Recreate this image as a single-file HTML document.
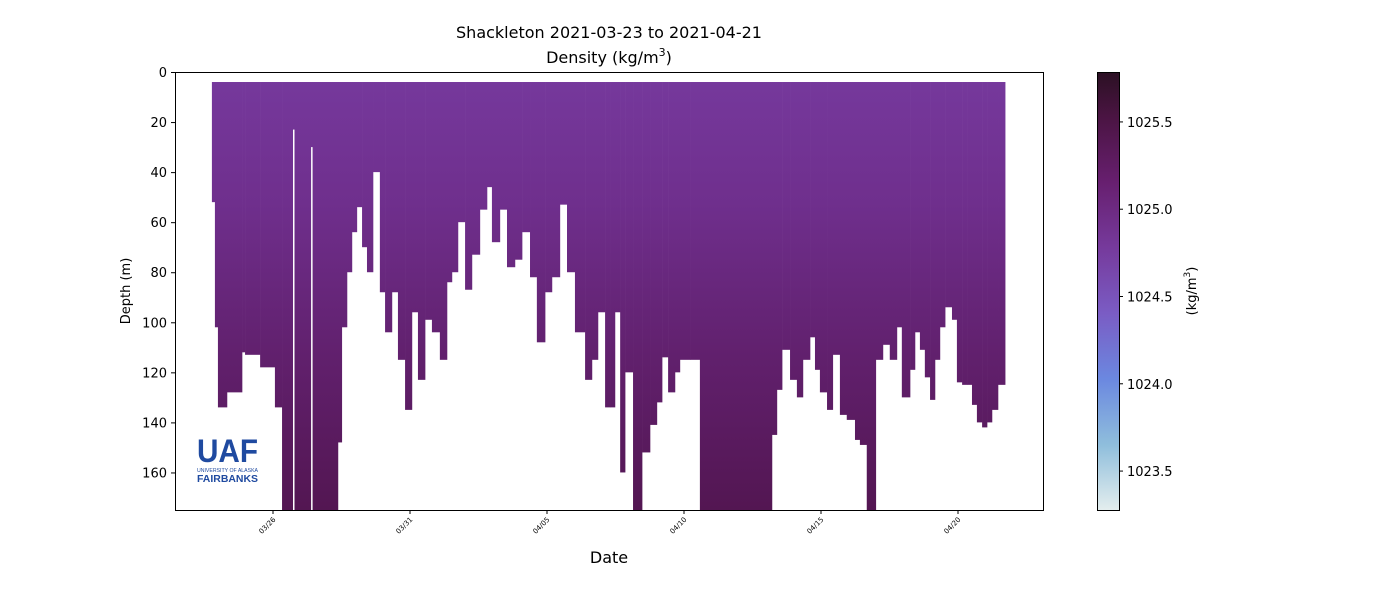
<!DOCTYPE html>
<html><head><meta charset="utf-8"><style>
body{margin:0;background:#fff;}
svg{display:block;font-family:"DejaVu Sans","Liberation Sans",sans-serif;}
</style></head><body>
<svg id="chart" width="1400" height="600" viewBox="0 0 1400 600" xmlns="http://www.w3.org/2000/svg">
<defs>
<linearGradient id="dataGrad" gradientUnits="userSpaceOnUse" x1="0" y1="72" x2="0" y2="510">
<stop offset="0" stop-color="#76399d"/><stop offset="0.3" stop-color="#6f2f8d"/><stop offset="0.65" stop-color="#61206d"/><stop offset="1" stop-color="#531652"/>
</linearGradient>
<linearGradient id="cbGrad" x1="0" y1="0" x2="0" y2="1">
<stop offset="0" stop-color="#2b1023"/><stop offset="0.1" stop-color="#4a1442"/><stop offset="0.25" stop-color="#671f6f"/><stop offset="0.4" stop-color="#763a9c"/><stop offset="0.55" stop-color="#7a5cc4"/><stop offset="0.7" stop-color="#6b88e0"/><stop offset="0.85" stop-color="#8fbedc"/><stop offset="1" stop-color="#e4eeee"/>
</linearGradient>
</defs>
<text x="609" y="38" font-size="16" text-anchor="middle">Shackleton 2021-03-23 to 2021-04-21</text>
<text x="609" y="63" font-size="16" text-anchor="middle">Density (kg/m<tspan font-size="11" dy="-7">3</tspan><tspan dy="7">)</tspan></text>
<g id="plot"></g>
<rect x="175.5" y="72.5" width="868" height="438" fill="none" stroke="#000" stroke-width="1"/>
<g id="yaxis"></g>
<g id="xaxis"></g>
<text x="609" y="563" font-size="16" text-anchor="middle">Date</text>
<text transform="translate(130,291) rotate(-90)" font-size="13" text-anchor="middle">Depth (m)</text>
<g>
<text x="197" y="462" font-size="32" font-weight="bold" fill="#1f4aa0" font-family="Liberation Sans,sans-serif" textLength="61" lengthAdjust="spacingAndGlyphs">UAF</text>
<text x="197" y="472" font-size="5.5" fill="#1f4aa0" font-family="Liberation Sans,sans-serif" textLength="61" lengthAdjust="spacingAndGlyphs">UNIVERSITY OF ALASKA</text>
<text x="197" y="482" font-size="10" font-weight="bold" fill="#1f4aa0" font-family="Liberation Sans,sans-serif" textLength="61" lengthAdjust="spacingAndGlyphs">FAIRBANKS</text>
</g>
<rect x="1097.5" y="72.5" width="22" height="438" fill="url(#cbGrad)" stroke="#000" stroke-width="1"/>
<g id="cbaxis"></g>
<text transform="translate(1196,291) rotate(-90)" font-size="13" text-anchor="middle">(kg/m<tspan font-size="9" dy="-6">3</tspan><tspan dy="6">)</tspan></text>
</svg>
<script>
const segStartDay=[0.77,0.88,0.99,1.32,1.87,1.98,2.53,3.07,3.33,5.37,5.51,5.70,5.88,6.06,6.25,6.43,6.65,6.90,7.09,7.34,7.56,7.82,8.07,8.29,8.55,8.80,9.09,9.35,9.53,9.75,10.01,10.26,10.55,10.81,10.99,11.28,11.54,11.83,12.09,12.38,12.63,12.93,13.18,13.47,13.73,14.02,14.39,14.64,14.86,15.12,15.30,15.48,15.67,15.85,16.14,16.47,16.76,17.01,17.20,17.42,17.67,17.85,18.22,18.58,21.21,21.39,21.58,21.87,22.12,22.34,22.60,22.78,22.96,23.22,23.43,23.69,23.94,24.24,24.42,24.67,25.00,25.26,25.51,25.77,25.95,26.25,26.43,26.61,26.79,26.98,27.16,27.34,27.53,27.78,27.96,28.15,28.33,28.51,28.69,28.88,29.06,29.24,29.46];
const segMaxDepth=[52,102,134,128,112,113,118,134,175,148,102,80,64,54,70,80,40,88,104,88,115,135,96,123,99,104,115,84,80,60,87,73,55,46,68,55,78,75,64,82,108,88,82,53,80,104,123,115,96,134,134,96,160,120,175,152,141,132,114,128,120,115,115,175,145,127,111,123,130,115,106,119,128,135,113,137,139,147,149,175,115,109,115,102,130,119,104,111,122,131,115,102,94,99,124,125,125,133,140,142,140,135,125];
const endDay=29.72;
const surfaceDepth=4;
const gapDays=[3.73,4.39];
const gapTopDepth=[23,30];
const yTicks=[0,20,40,60,80,100,120,140,160];
const xTickDays=[3,8,13,18,23,28];
const xTickLabels=["03/26","03/31","04/05","04/10","04/15","04/20"];
const cbTicks=[1025.5,1025.0,1024.5,1024.0,1023.5];
const cbTickLabels=["1025.5","1025.0","1024.5","1024.0","1023.5"];

const NS="http://www.w3.org/2000/svg";
const X0=175,X1=1043,Y0=72,Y1=510,DMAX=175;
const xs=d=>190.8+d*27.4;
const ys=m=>Y0+m*(Y1-Y0)/DMAX;
const cbY=v=>72+(1025.786-v)*(438/(1025.786-1023.277));
function mk(tag,attrs,parent){const e=document.createElementNS(NS,tag);for(const k in attrs)e.setAttribute(k,attrs[k]);parent.appendChild(e);return e;}
const plot=document.getElementById('plot');
for(let i=0;i<segStartDay.length;i++){
  const a=xs(segStartDay[i]);
  const b=xs(i+1<segStartDay.length?segStartDay[i+1]:endDay);
  const r=mk('rect',{x:a,y:ys(surfaceDepth),width:b-a+0.3,height:Math.min(ys(segMaxDepth[i]),Y1)-ys(surfaceDepth),fill:'url(#dataGrad)'},plot);
  
  
}
for(let i=0;i<gapDays.length;i++){
  const g=mk('rect',{x:xs(gapDays[i]),y:ys(gapTopDepth[i]),width:1.5,height:Y1-ys(gapTopDepth[i]),fill:'#fff'},plot);
  
  
}
const ya=document.getElementById('yaxis');
yTicks.forEach(t=>{
  mk('line',{x1:171,x2:175,y1:ys(t)+0.5,y2:ys(t)+0.5,stroke:'#000'},ya);
  const tx=mk('text',{x:167,y:ys(t)+5,'font-size':13,'text-anchor':'end'},ya);
  tx.textContent=t;
  
  
});
const xa=document.getElementById('xaxis');
xTickDays.forEach((d,i)=>{
  const x=xs(d);
  mk('line',{x1:x,x2:x,y1:510,y2:514,stroke:'#000'},xa);
  const tx=mk('text',{'font-size':7,'text-anchor':'end',transform:`translate(${x+3},${520}) rotate(-45)`},xa);
  tx.textContent=xTickLabels[i];
  
  
});
const cb=document.getElementById('cbaxis');
cbTicks.forEach((v,i)=>{
  const y=cbY(v);
  mk('line',{x1:1119,x2:1123,y1:y,y2:y,stroke:'#000'},cb);
  const tx=mk('text',{x:1127,y:y+5,'font-size':13},cb);
  tx.textContent=cbTickLabels[i];
  
  
});
</script>
</body></html>
